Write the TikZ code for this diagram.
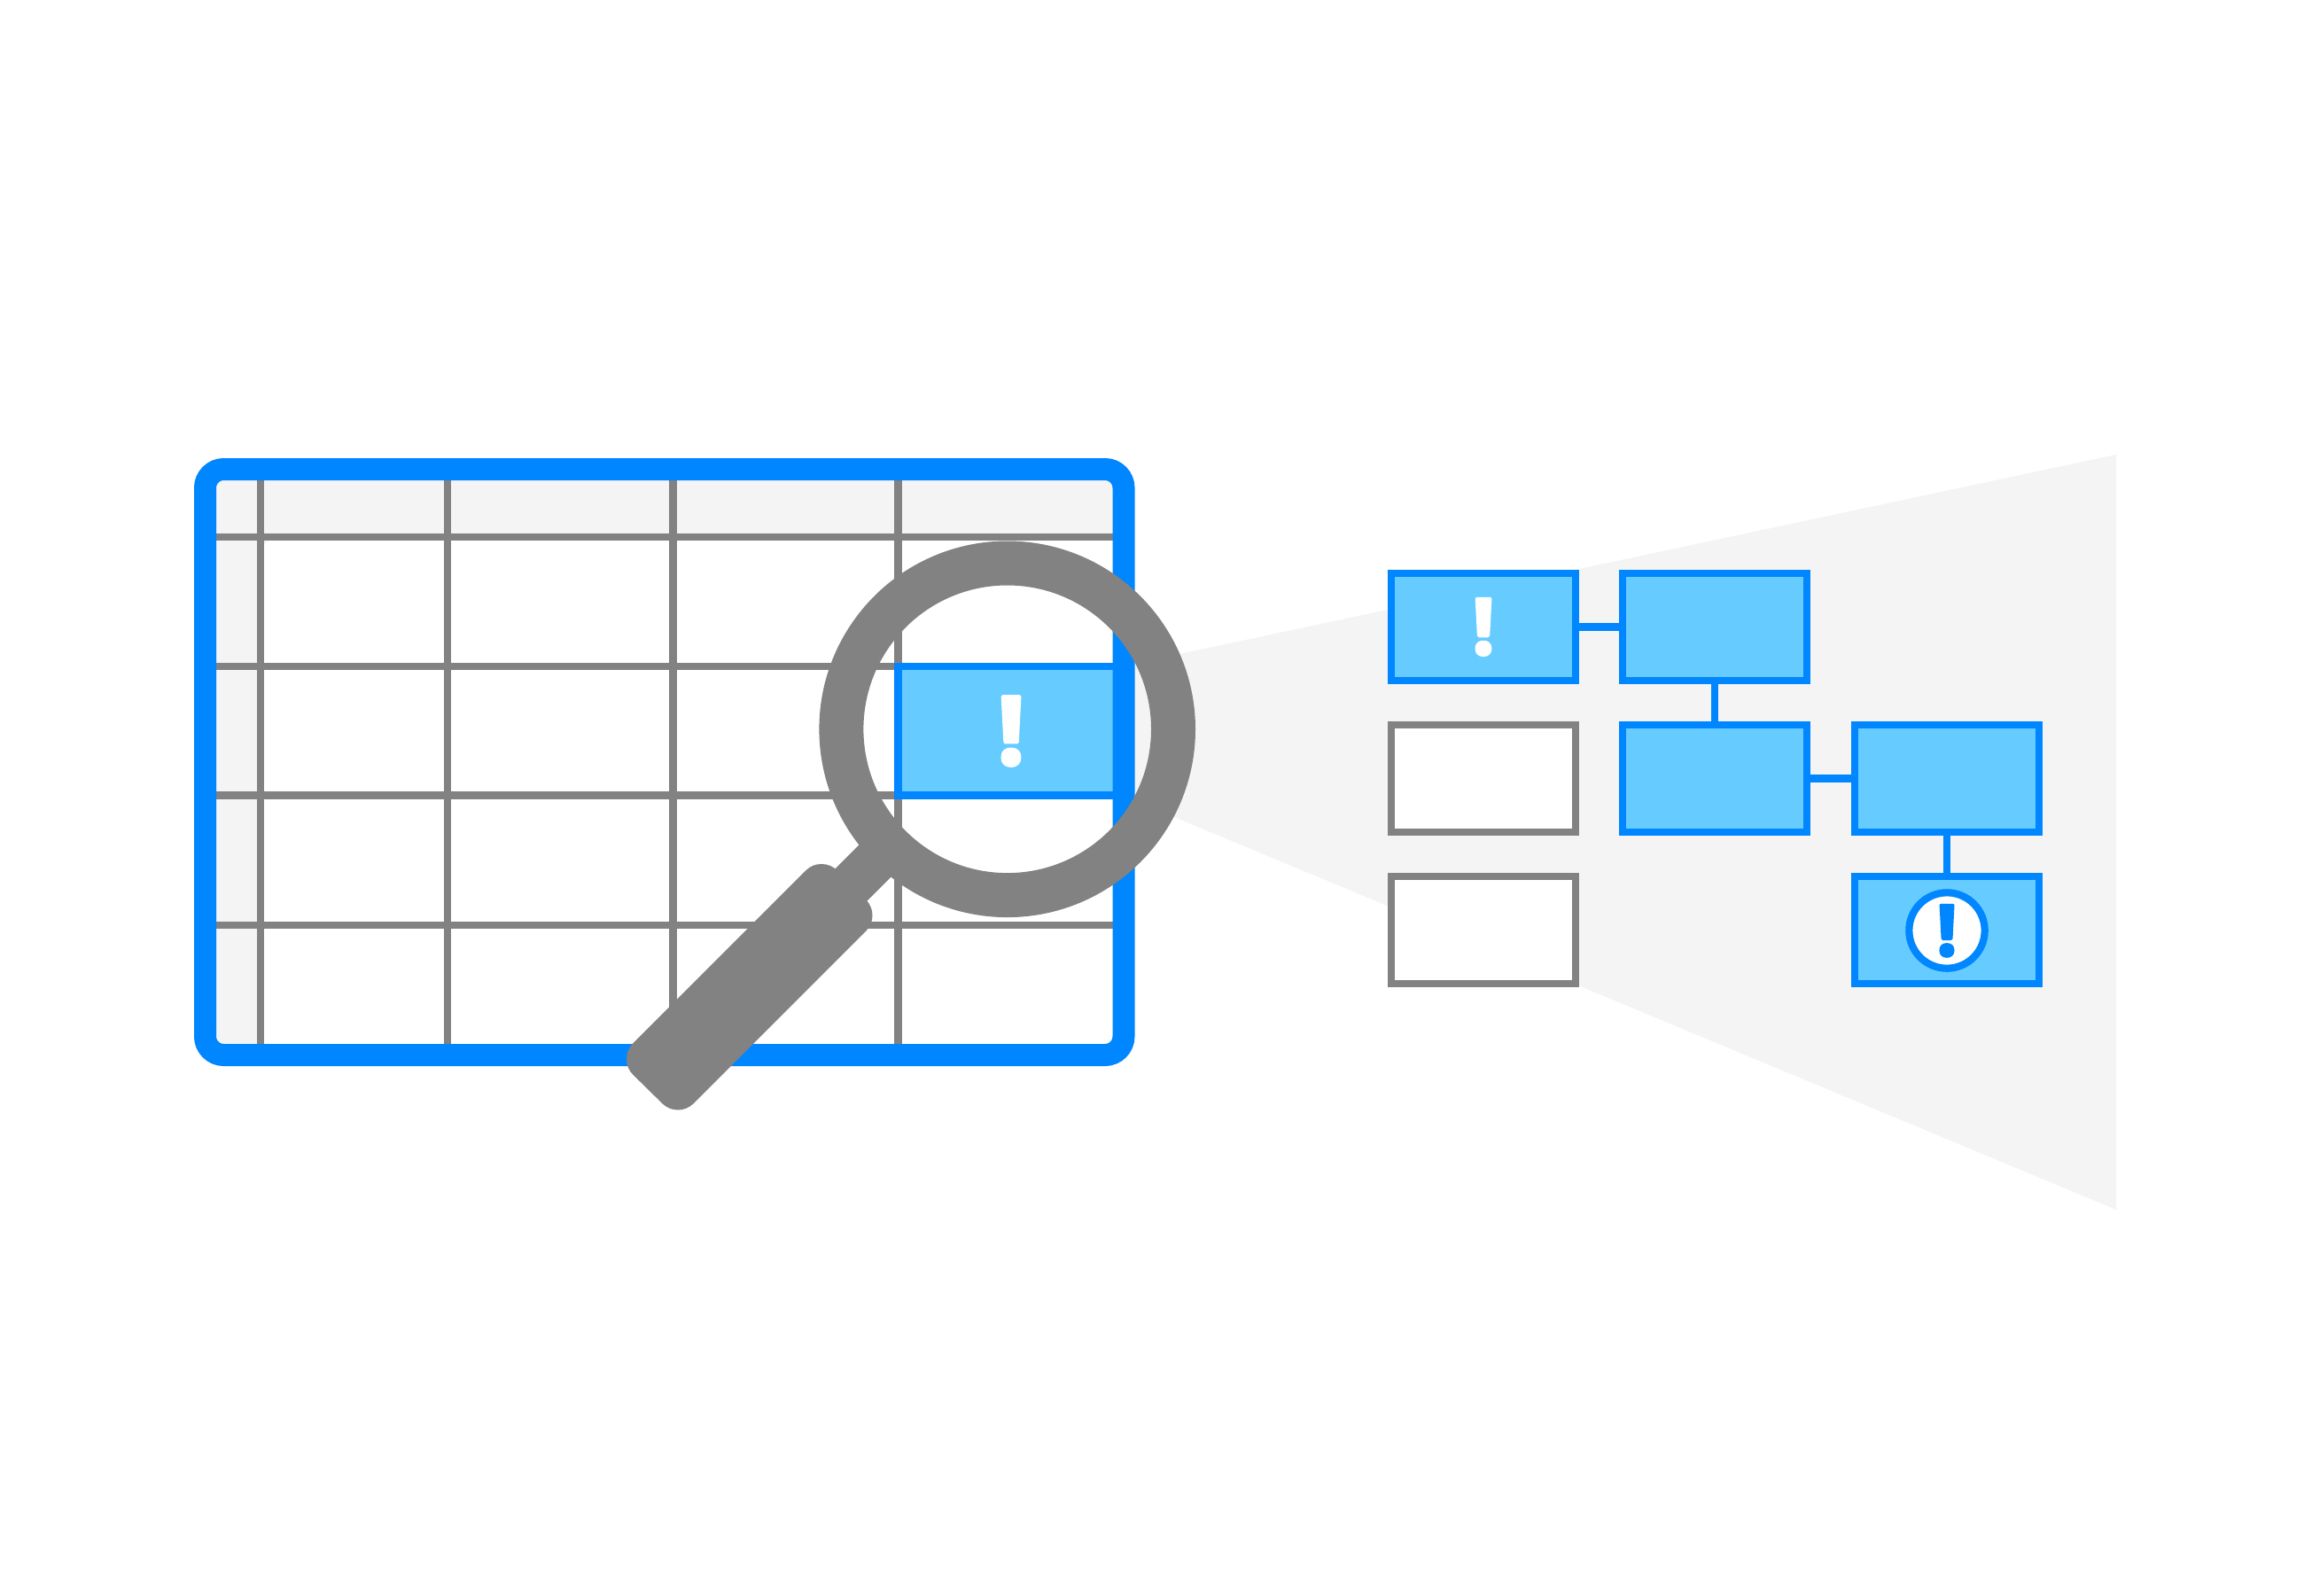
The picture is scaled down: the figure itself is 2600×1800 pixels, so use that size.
\documentclass[tikz,border=0pt]{standalone}
\usepackage{fontspec}
\setmainfont{Open Sans}
\newfontfamily\bangfont[FakeBold=4.5]{Open Sans Bold}
\newcommand{\roundbang}{\special{pdf:code 1 j}!}
\definecolor{bluedark}{HTML}{0086FF}
\definecolor{bluelight}{HTML}{66CCFF}
\definecolor{greyline}{HTML}{828282}
\definecolor{greypale}{HTML}{F4F4F4}
\tikzset{
  gridline/.style={draw=greyline,line width=4.4pt},
  tablebox/.style={draw=bluedark,line width=12.5pt,rounded corners=10.5pt},
  flowbox/.style={draw=bluedark,fill=bluelight,line width=4.1pt,minimum width=104pt,minimum height=60.2pt,inner sep=0pt,outer sep=0pt,rectangle},
  plainbox/.style={flowbox,draw=greyline,fill=white},
  link/.style={draw=bluedark,line width=4.1pt},
  bangbig/.style={inner sep=0pt,text=white,font=\bangfont\fontsize{53}{53}\selectfont},
  bangmid/.style={inner sep=0pt,text=white,font=\bangfont\fontsize{43.5}{43.5}\selectfont},
  bangsmall/.style={inner sep=0pt,text=bluedark,font=\bangfont\fontsize{39.5}{39.5}\selectfont},
}
\begin{document}
\begin{tikzpicture}[x=0.5pt,y=-0.5pt]
\useasboundingbox (0,0) rectangle (2600,1800);
\fill[white] (0,0) rectangle (2600,1800);
% wedge
\fill[greypale] (1270,751) -- (2388,513) -- (2388,1365) -- (1270,899) -- cycle;
% table body
\fill[white,rounded corners=10.5pt] (231.5,529.5) rectangle (1268,1190.5);
\fill[greypale,rounded corners=10.5pt] (231.5,529.5) -- (1268,529.5) -- (1268,606) -- (294,606) -- (294,1190.5) -- (231.5,1190.5) -- cycle;
\foreach \gx in {294,505,759.7,1013.7}
  \draw[gridline] (\gx,535) -- (\gx,1185);
\foreach \gy in {606,752,897.7,1044}
  \draw[gridline] (240,\gy) -- (1260,\gy);
% highlighted cell
\draw[draw=bluedark,fill=bluelight,line width=4.4pt] (1260,752) -- (1013.7,752) -- (1013.7,897.7) -- (1260,897.7);
\node[bangbig] (bigmark) at (1141,825) {\roundbang};
% table frame
\draw[tablebox] (231.5,529.5) rectangle (1268,1190.5);
% boxes
\node[flowbox] (a) at (1674,707.5) {};
\node[bangmid] (amark) at (1674,707.5) {\roundbang};
\node[flowbox] (b) at (1935,707.5) {};
\node[plainbox] (c) at (1674,878.5) {};
\node[flowbox] (d) at (1935,878.5) {};
\node[flowbox] (e) at (2197,878.5) {};
\node[plainbox] (f) at (1674,1049.5) {};
\node[flowbox] (g) at (2197,1049.5) {};
\draw[link] (a) -- (b);
\draw[link] (b) -- (d);
\draw[link] (d) -- (e);
\draw[link] (e) -- (g);
\node[circle,draw=bluedark,fill=white,line width=4.1pt,minimum size=42.7pt,inner sep=0pt,outer sep=0pt] (alert) at (2197,1050) {};
\node[bangsmall] (alertmark) at (2197,1050.3) {\roundbang};
% magnifier
\draw[greyline,line width=25.5pt] (1005,954) -- (950,1009);
\fill[greyline,draw=greyline,line width=25pt,line join=round] (927,1000) -- (959.5,1033) -- (765,1227.5) -- (732,1195) -- cycle;
\draw[greyline,line width=25pt] (1136.7,822.8) circle[radius=187.3];
\end{tikzpicture}
\end{document}
